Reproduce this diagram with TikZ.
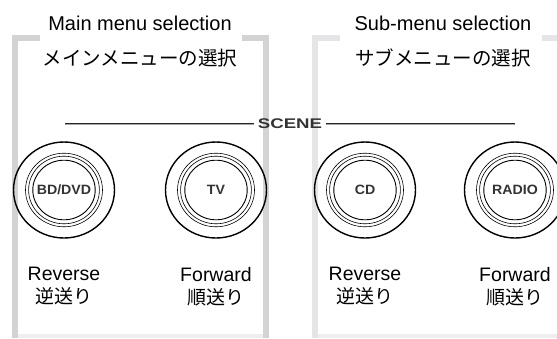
\documentclass[tikz,border=0pt]{standalone}
\usepackage{fontspec}
\setmainfont{Liberation Sans}
\newfontfamily\jpfont{Noto Sans CJK JP}
\usetikzlibrary{positioning, shapes.geometric}

\definecolor{panelmain}{HTML}{D3D3D3}
\definecolor{panelsub}{HTML}{E5E5E7}
\definecolor{panelfoot}{HTML}{EEEEEE}

% 横長のキー文字
\newcommand{\keytext}[2][1.05]{\scalebox{#1}[1]{\bfseries #2}}

\begin{document}
\begin{tikzpicture}[
        x=1pt, y=-1pt,
        button/.style={ellipse, draw=black, line width=1.4pt,
                    minimum width=101pt, minimum height=96pt, inner sep=0pt,
                    font=\fontsize{13.5}{13.5}\selectfont, text=black!80,
                    path picture={
                        \draw[line width=0.6pt] (path picture bounding box.center)
                            ellipse [x radius=38.5pt, y radius=36.8pt];
                        \draw[line width=0.6pt] (path picture bounding box.center)
                            ellipse [x radius=35.4pt, y radius=33.8pt];
                        \draw[line width=0.9pt] (path picture bounding box.center)
                            ellipse [x radius=31.2pt, y radius=29.8pt];
                    }},
        menutitle/.style={font=\fontsize{20}{24}\selectfont, inner sep=0pt},
        jptitle/.style={font=\jpfont\fontsize{19.5}{24}\selectfont, inner sep=0pt},
        dirlabel/.style={font=\fontsize{19.5}{24}\selectfont, inner sep=0pt},
        jplabel/.style={font=\jpfont\fontsize{19}{24}\selectfont, inner sep=0pt},
        scenetext/.style={font=\fontsize{14}{14}\selectfont,
                    text=black!80, inner sep=4pt},
        scenerule/.style={draw=black!85, double=black!35, double distance=0.7pt,
                    line width=0.6pt},
    ]
    \useasboundingbox (0,0) rectangle (557,338);

    % 左枠（メイン）
    \fill[panelfoot] (12,334) rectangle (269,338);
    \fill[panelmain] (12,35) rectangle (18,338);
    \fill[panelmain] (12,35) rectangle (40,41);
    \fill[panelmain] (242,35) rectangle (269,41);
    \fill[panelmain] (263,35) rectangle (269,338);

    % 右枠（サブ）
    \fill[panelfoot] (312,334) rectangle (557,338);
    \fill[panelsub] (312,35) rectangle (318,338);
    \fill[panelsub] (312,35) rectangle (340,41);
    \fill[panelsub] (542,35) rectangle (557,41);

    % 見出し
    \node[menutitle] (maintitle) at (140,23) {Main menu selection};
    \node[jptitle] (mainjp) at (140,58) {メインメニューの選択};
    \node[menutitle] (subtitle) at (443,23) {Sub-menu selection};
    \node[jptitle] (subjp) at (443,58) {サブメニューの選択};

    % SCENE ライン
    \node[scenetext] (scene) at (290,124) {\keytext[1.33]{SCENE}};
    \coordinate (sceneL) at (65,124);
    \coordinate (sceneR) at (515,124);
    \draw[scenerule] (sceneL) -- (scene.west);
    \draw[scenerule] (scene.east) -- (sceneR);

    % ボタン
    \node[button] (bddvd) at (64,190) {\keytext{BD/DVD}};
    \node[button] (tv) at (216,190) {\keytext{TV}};
    \node[button] (cd) at (365,190) {\keytext{CD}};
    \node[button] (radio) at (515,190) {\keytext{RADIO}};

    % ボタン下のラベル
    \node[dirlabel, below=28pt of bddvd] (bdrev) {Reverse};
    \node[jplabel, below=6.5pt of bdrev] (bdrevjp) {逆送り};
    \node[dirlabel, below=28pt of tv] (tvfwd) {Forward};
    \node[jplabel, below=6.5pt of tvfwd] (tvfwdjp) {順送り};
    \node[dirlabel, below=28pt of cd] (cdrev) {Reverse};
    \node[jplabel, below=6.5pt of cdrev] (cdrevjp) {逆送り};
    \node[dirlabel, below=28pt of radio] (radiofwd) {Forward};
    \node[jplabel, below=6.5pt of radiofwd] (radiofwdjp) {順送り};

\end{tikzpicture}
\end{document}
